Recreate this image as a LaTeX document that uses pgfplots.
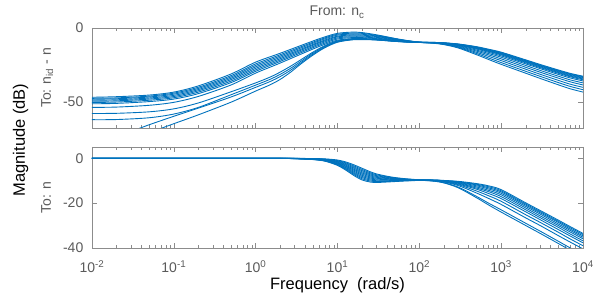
\documentclass[border=0pt]{standalone}
\usepackage{pgfplots}
\pgfplotsset{compat=1.18}
\usepackage{fontspec}
\setmainfont{Liberation Sans}
\definecolor{mblue}{RGB}{0,114,189}
\definecolor{axgray}{RGB}{140,140,140}
\definecolor{txtgray}{RGB}{90,90,90}
\begin{document}
\begin{tikzpicture}
\path[use as bounding box] (-92pt,-51pt) rectangle (506pt,248pt);
% ---------------- top panel ----------------
\begin{axis}[xmode=log, scale only axis, width=491pt, height=100pt,
    at={(0pt,120pt)}, anchor=south west,
    xmin=0.01, xmax=10000, ymin=-67.4, ymax=0,
    axis line style={draw=axgray, line width=0.5pt},
    tick style={draw=axgray, line width=0.5pt},
    tick align=inside,
    major tick length=5pt, minor tick length=3pt,
    xtick={0.01,0.1,1,10,100,1000,10000},
    minor xtick={0.02,0.03,0.04,0.05,0.06,0.07,0.08,0.09,0.2,0.3,0.4,0.5,0.6,0.7,0.8,0.9,2,3,4,5,6,7,8,9,20,30,40,50,60,70,80,90,200,300,400,500,600,700,800,900,2000,3000,4000,5000,6000,7000,8000,9000},
    xticklabels={},
    ytick={-50,0}, yticklabels={-50,0},
    tick label style={font=\fontsize{14}{16}\selectfont, text=txtgray},
    yticklabel style={anchor=east, inner sep=0pt, xshift=-8.5pt},
    no markers]
% C1
\addplot[mblue, line width=0.9pt, smooth] coordinates {(0.01,-46.7)(0.02,-46.3)(0.05,-45.2)(0.1,-43.2)(0.2,-39.0)(0.5,-31.0)(1,-23.0)(2,-17.0)(5,-8.8)(7,-6.0)(10,-3.6)(15,-2.8)(20,-3.1)(30,-4.6)(50,-7.0)(70,-8.4)(100,-9.5)
 (150,-9.7)(200,-10.0)(300,-10.8)(500,-12.6)(700,-14.3)(1000,-16.3)(2000,-21.5)(3000,-24.6)(5000,-28.3)(7000,-30.6)(10000,-32.5)};
% C2
\addplot[mblue, line width=0.9pt, smooth] coordinates {(0.01,-47.4)(0.02,-47.1)(0.05,-45.9)(0.1,-43.9)(0.2,-39.9)(0.5,-32.1)(1,-24.2)(2,-18.0)(5,-9.6)(7,-6.7)(10,-4.2)(15,-3.5)(20,-3.6)(30,-5.0)(50,-7.2)(70,-8.5)(100,-9.55)
 (150,-9.7)(200,-10.1)(300,-10.9)(500,-12.8)(700,-14.6)(1000,-16.6)(2000,-21.9)(3000,-25.0)(5000,-28.7)(7000,-31.0)(10000,-32.9)};
% C3
\addplot[mblue, line width=0.9pt, smooth] coordinates {(0.01,-48.0)(0.02,-47.7)(0.05,-46.5)(0.1,-44.6)(0.2,-40.7)(0.5,-33.0)(1,-25.2)(2,-18.9)(5,-10.3)(7,-7.35)(10,-4.8)(15,-4.1)(20,-4.2)(30,-5.4)(50,-7.4)(70,-8.6)(100,-9.6)
 (150,-9.8)(200,-10.1)(300,-11.0)(500,-13.0)(700,-14.9)(1000,-17.0)(2000,-22.2)(3000,-25.4)(5000,-29.1)(7000,-31.4)(10000,-33.4)};
% C4
\addplot[mblue, line width=0.9pt, smooth] coordinates {(0.01,-48.7)(0.02,-48.4)(0.05,-47.2)(0.1,-45.4)(0.2,-41.5)(0.5,-33.9)(1,-26.2)(2,-19.8)(5,-11.1)(7,-8.1)(10,-5.5)(15,-4.7)(20,-4.8)(30,-5.8)(50,-7.6)(70,-8.7)(100,-9.6)
 (150,-9.8)(200,-10.1)(300,-11.1)(500,-13.3)(700,-15.1)(1000,-17.3)(2000,-22.6)(3000,-25.7)(5000,-29.5)(7000,-31.9)(10000,-33.8)};
% C5
\addplot[mblue, line width=0.9pt, smooth] coordinates {(0.01,-49.4)(0.02,-49.1)(0.05,-47.9)(0.1,-46.2)(0.2,-42.3)(0.5,-34.8)(1,-27.2)(2,-20.7)(5,-11.7)(7,-8.7)(10,-6.0)(15,-5.3)(20,-5.4)(30,-6.3)(50,-7.9)(70,-8.9)(100,-9.65)
 (150,-9.8)(200,-10.2)(300,-11.3)(500,-13.5)(700,-15.5)(1000,-17.7)(2000,-23.0)(3000,-26.2)(5000,-30.0)(7000,-32.4)(10000,-34.3)};
% C6
\addplot[mblue, line width=0.9pt, smooth] coordinates {(0.01,-50.2)(0.02,-49.9)(0.05,-48.7)(0.1,-47.0)(0.2,-43.2)(0.5,-35.8)(1,-28.2)(2,-21.6)(5,-12.5)(7,-9.4)(10,-6.7)(15,-5.9)(20,-6.0)(30,-6.8)(50,-8.2)(70,-9.0)(100,-9.7)
 (150,-9.8)(200,-10.3)(300,-11.4)(500,-13.8)(700,-15.8)(1000,-18.1)(2000,-23.5)(3000,-26.7)(5000,-30.5)(7000,-32.9)(10000,-34.9)};
% C7
\addplot[mblue, line width=0.9pt, smooth] coordinates {(0.01,-51.1)(0.02,-50.8)(0.05,-49.6)(0.1,-47.9)(0.2,-44.2)(0.5,-36.8)(1,-29.2)(2,-22.5)(5,-13.3)(7,-10.2)(10,-7.4)(15,-6.5)(20,-6.5)(30,-7.2)(50,-8.4)(70,-9.2)(100,-9.7)
 (150,-9.9)(200,-10.4)(300,-11.6)(500,-14.2)(700,-16.4)(1000,-18.8)(2000,-24.2)(3000,-27.4)(5000,-31.3)(7000,-33.7)(10000,-35.7)};
% C8
\addplot[mblue, line width=0.9pt, smooth] coordinates {(0.01,-53.5)(0.02,-53.3)(0.05,-52.1)(0.1,-50.1)(0.2,-46.1)(0.5,-38.4)(1,-30.4)(2,-23.6)(5,-14.2)(7,-11.0)(10,-8.2)(15,-7.2)(20,-7.1)(30,-7.6)(50,-8.7)(70,-9.3)(100,-9.75)
 (150,-10.0)(200,-10.5)(300,-11.9)(500,-14.9)(700,-17.2)(1000,-19.7)(2000,-25.3)(3000,-28.6)(5000,-32.5)(7000,-35.0)(10000,-37.0)};
% D1
\addplot[mblue, line width=0.9pt, smooth] coordinates {(0.01,-57.6)(0.02,-57.5)(0.05,-56.5)(0.1,-54.5)(0.2,-50.5)(0.5,-43.0)(1,-37.0)(1.5,-33.1)(2,-29.7)(2.7,-25.6)(3.5,-21.7)(5,-16.3)(7,-11.9)(10,-8.7)(15,-7.4)(20,-7.3)(30,-7.8)(50,-8.8)(70,-9.3)(100,-9.7)
 (150,-10.0)(200,-10.7)(300,-12.3)(500,-15.6)(700,-18.1)(1000,-20.8)(2000,-26.5)(3000,-29.8)(5000,-33.8)(7000,-36.3)(10000,-38.4)};
% D2
\addplot[mblue, line width=0.9pt, smooth] coordinates {(0.01,-61.8)(0.02,-61.7)(0.05,-60.5)(0.1,-58.0)(0.2,-53.5)(0.5,-45.0)(1,-38.5)(1.5,-34.6)(2,-31.2)(2.7,-27.0)(3.5,-22.8)(5,-17.0)(7,-12.4)(10,-9.0)(15,-7.6)(20,-7.5)(30,-7.9)(50,-8.9)(70,-9.4)(100,-9.7)
 (150,-10.1)(200,-10.8)(300,-12.7)(500,-16.4)(700,-19.1)(1000,-22.0)(2000,-27.8)(3000,-31.2)(5000,-35.3)(7000,-37.9)(10000,-40.0)};
% E1
\addplot[mblue, line width=0.9pt, smooth] coordinates {(0.02,-73.2)(0.039,-67.4)(0.05,-65.2)(0.1,-59.5)(0.2,-54.0)(0.5,-46.5)(1,-40.0)(1.5,-36.1)(2,-32.7)(2.7,-28.3)(3.5,-23.8)(5,-17.7)(7,-12.9)(10,-9.3)(15,-7.8)(20,-7.6)(30,-8.0)(50,-9.0)(70,-9.4)(100,-9.7)
 (150,-10.2)(200,-11.0)(300,-13.1)(500,-17.2)(700,-20.2)(1000,-23.3)(2000,-29.2)(3000,-32.6)(5000,-36.8)(7000,-39.4)(10000,-41.6)};
% E2
\addplot[mblue, line width=0.9pt, smooth] coordinates {(0.04,-72.6)(0.072,-67.4)(0.1,-64.5)(0.2,-58.5)(0.5,-50.0)(1,-42.5)(1.5,-38.3)(2,-34.6)(2.7,-29.6)(3.5,-24.6)(5,-18.3)(7,-13.3)(10,-9.6)(15,-8.0)(20,-7.8)(30,-8.1)(50,-9.0)(70,-9.5)(100,-9.75)
 (150,-10.3)(200,-11.2)(300,-13.5)(500,-18.0)(700,-21.2)(1000,-24.5)(2000,-30.5)(3000,-34.0)(5000,-38.3)(7000,-41.0)(10000,-43.2)};
\end{axis}
% ---------------- bottom panel ----------------
\begin{axis}[xmode=log, scale only axis, width=491pt, height=101pt,
    at={(0pt,0pt)}, anchor=south west,
    xmin=0.01, xmax=10000, ymin=-40, ymax=5,
    axis line style={draw=axgray, line width=0.5pt},
    tick style={draw=axgray, line width=0.5pt},
    tick align=inside,
    major tick length=5pt, minor tick length=3pt,
    xtick={0.01,0.1,1,10,100,1000,10000},
    minor xtick={0.02,0.03,0.04,0.05,0.06,0.07,0.08,0.09,0.2,0.3,0.4,0.5,0.6,0.7,0.8,0.9,2,3,4,5,6,7,8,9,20,30,40,50,60,70,80,90,200,300,400,500,600,700,800,900,2000,3000,4000,5000,6000,7000,8000,9000},
    xticklabels={10\textsuperscript{-2},10\textsuperscript{-1},10\textsuperscript{0},10\textsuperscript{1},10\textsuperscript{2},10\textsuperscript{3},10\textsuperscript{4}},
    ytick={-40,-20,0}, yticklabels={-40,-20,0},
    tick label style={font=\fontsize{14}{16}\selectfont, text=txtgray},
    yticklabel style={anchor=east, inner sep=0pt, xshift=-8.5pt},
    xticklabel style={anchor=base, inner sep=0pt, yshift=-24.5pt},
    no markers]
% j=0, w=.4
\addplot[mblue, line width=0.9pt, smooth] coordinates {(0.01,0)(1,0)(2,0)(3,-0.05)(5,-0.15)(7,-0.3)(10,-0.8)(13,-1.8)(16,-3.0)(20,-4.5)(25,-6.0)(30,-7.0)(40,-8.0)(50,-8.6)(70,-9.2)(100,-9.6)
 (150,-9.9)(200,-10.3)(300,-11.5)(500,-13.8)(700,-15.7)(1000,-18.0)(2000,-23.9)(3000,-27.4)(5000,-31.8)(7000,-34.7)(10000,-37.7)};
% j=0.1, w=0
\addplot[mblue, line width=0.9pt, smooth] coordinates {(0.01,0)(1,0)(2,0)(3,-0.07)(5,-0.2)(7,-0.4)(10,-1.04)(13,-2.18)(16,-3.48)(20,-5.02)(25,-6.46)(30,-7.38)(40,-8.26)(50,-8.78)(70,-9.29)(100,-9.63)
 (150,-9.7)(200,-9.9)(300,-10.3)(500,-11.3)(700,-12.3)(1000,-14.0)(2000,-19.9)(3000,-23.3)(5000,-27.6)(7000,-30.5)(10000,-33.5)};
% j=0.2, w=.66
\addplot[mblue, line width=0.9pt, smooth] coordinates {(0.01,0)(1,0)(2,-0.02)(3,-0.08)(5,-0.24)(7,-0.5)(10,-1.28)(13,-2.56)(16,-3.96)(20,-5.54)(25,-6.92)(30,-7.76)(40,-8.52)(50,-8.96)(70,-9.38)(100,-9.66)
 (150,-10.0)(200,-10.6)(300,-12.2)(500,-15.5)(700,-17.9)(1000,-20.6)(2000,-26.6)(3000,-30.0)(5000,-34.5)(7000,-37.4)(10000,-40.4)};
% j=0.3, w=.1
\addplot[mblue, line width=0.9pt, smooth] coordinates {(0.01,0)(1,0)(2,-0.03)(3,-0.1)(5,-0.29)(7,-0.6)(10,-1.52)(13,-2.94)(16,-4.44)(20,-6.06)(25,-7.38)(30,-8.14)(40,-8.78)(50,-9.14)(70,-9.47)(100,-9.69)
 (150,-9.8)(200,-10.0)(300,-10.6)(500,-11.9)(700,-13.2)(1000,-15.0)(2000,-20.9)(3000,-24.3)(5000,-28.6)(7000,-31.6)(10000,-34.6)};
% j=0.4, w=1
\addplot[mblue, line width=0.9pt, smooth] coordinates {(0.01,0)(1,0)(2,-0.04)(3,-0.11)(5,-0.33)(7,-0.7)(10,-1.76)(13,-3.32)(16,-4.92)(20,-6.58)(25,-7.84)(30,-8.52)(40,-9.04)(50,-9.32)(70,-9.56)(100,-9.72)
 (150,-10.2)(200,-11.0)(300,-13.2)(500,-17.6)(700,-20.8)(1000,-24.0)(2000,-30.0)(3000,-33.5)(5000,-38.0)(7000,-41.0)(10000,-44.0)};
% j=0.5, w=.16
\addplot[mblue, line width=0.9pt, smooth] coordinates {(0.01,0)(1,0)(2,-0.05)(3,-0.13)(5,-0.38)(7,-0.8)(10,-2.0)(13,-3.7)(16,-5.4)(20,-7.1)(25,-8.3)(30,-8.9)(40,-9.3)(50,-9.5)(70,-9.65)(100,-9.75)
 (150,-9.8)(200,-10.1)(300,-10.8)(500,-12.3)(700,-13.7)(1000,-15.6)(2000,-21.5)(3000,-24.9)(5000,-29.3)(7000,-32.2)(10000,-35.2)};
% j=0.6, w=.52
\addplot[mblue, line width=0.9pt, smooth] coordinates {(0.01,0)(1,0)(2,-0.06)(3,-0.14)(5,-0.42)(7,-0.9)(10,-2.24)(13,-4.08)(16,-5.88)(20,-7.62)(25,-8.76)(30,-9.28)(40,-9.56)(50,-9.68)(70,-9.74)(100,-9.78)
 (150,-10.0)(200,-10.5)(300,-11.8)(500,-14.6)(700,-16.7)(1000,-19.2)(2000,-25.2)(3000,-28.6)(5000,-33.0)(7000,-36.0)(10000,-39.0)};
% j=0.7, w=.05
\addplot[mblue, line width=0.9pt, smooth] coordinates {(0.01,0)(1,0)(2,-0.07)(3,-0.16)(5,-0.47)(7,-1.0)(10,-2.48)(13,-4.46)(16,-6.36)(20,-8.14)(25,-9.22)(30,-9.66)(40,-9.82)(50,-9.86)(70,-9.83)(100,-9.81)
 (150,-9.7)(200,-10.0)(300,-10.5)(500,-11.6)(700,-12.7)(1000,-14.5)(2000,-20.4)(3000,-23.8)(5000,-28.1)(7000,-31.0)(10000,-34.0)};
% j=0.8, w=.9
\addplot[mblue, line width=0.9pt, smooth] coordinates {(0.01,0)(1,0)(2,-0.08)(3,-0.17)(5,-0.51)(7,-1.1)(10,-2.72)(13,-4.84)(16,-6.84)(20,-8.66)(25,-9.68)(30,-10.04)(40,-10.08)(50,-10.04)(70,-9.92)(100,-9.84)
 (150,-10.2)(200,-10.9)(300,-12.9)(500,-17.0)(700,-20.0)(1000,-23.0)(2000,-29.0)(3000,-32.5)(5000,-37.0)(7000,-40.0)(10000,-43.0)};
% j=0.9, w=.23
\addplot[mblue, line width=0.9pt, smooth] coordinates {(0.01,0)(1,0)(2,-0.09)(3,-0.19)(5,-0.56)(7,-1.2)(10,-2.96)(13,-5.22)(16,-7.32)(20,-9.18)(25,-10.14)(30,-10.42)(40,-10.34)(50,-10.22)(70,-10.01)(100,-9.87)
 (150,-9.8)(200,-10.2)(300,-11.0)(500,-12.8)(700,-14.3)(1000,-16.3)(2000,-22.2)(3000,-25.7)(5000,-30.0)(7000,-32.9)(10000,-35.9)};
% j=1, w=.31
\addplot[mblue, line width=0.9pt, smooth] coordinates {(0.01,0)(1,0)(2,-0.1)(3,-0.2)(5,-0.6)(7,-1.3)(10,-3.2)(13,-5.6)(16,-7.8)(20,-9.7)(25,-10.6)(30,-10.8)(40,-10.6)(50,-10.4)(70,-10.1)(100,-9.9)
 (150,-9.9)(200,-10.2)(300,-11.2)(500,-13.3)(700,-14.9)(1000,-17.1)(2000,-23.0)(3000,-26.5)(5000,-30.8)(7000,-33.8)(10000,-36.8)};
\end{axis}
% ---------------- labels ----------------
\node[anchor=base, text=txtgray, font=\fontsize{14}{16}\selectfont] at (245pt,232pt) {From: n\textsubscript{c}};
\node[anchor=base, rotate=90, text=txtgray, font=\fontsize{14}{16}\selectfont] at (-41pt,170pt) {To: n\textsubscript{id} - n};
\node[anchor=base, rotate=90, text=txtgray, font=\fontsize{14}{16}\selectfont] at (-41pt,50.5pt) {To: n};
\node[anchor=base, rotate=90, font=\fontsize{16.5}{18}\selectfont] at (-67pt,108pt) {Magnitude (dB)};
\node[anchor=base, font=\fontsize{16.5}{18}\selectfont] at (245.5pt,-42pt) {Frequency\ \ (rad/s)};
\end{tikzpicture}
\end{document}
